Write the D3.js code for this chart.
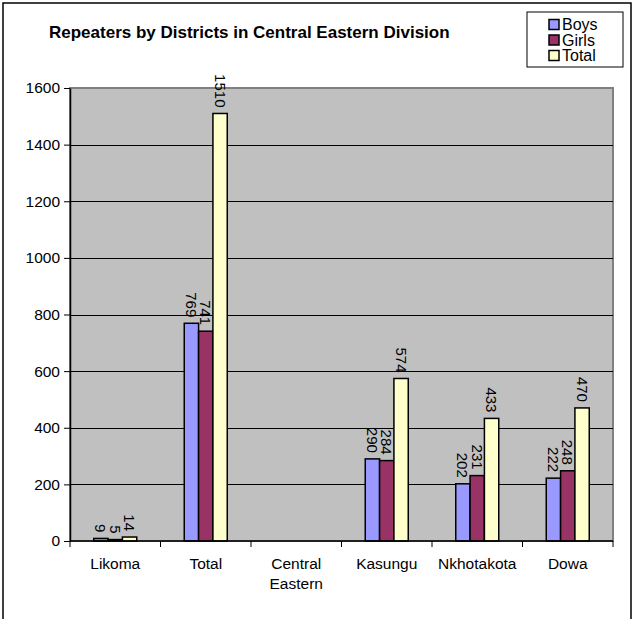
<!DOCTYPE html>
<html><head><meta charset="utf-8">
<script src="https://cdn.jsdelivr.net/npm/d3@7"></script>
<style>
html,body{margin:0;padding:0;background:#fff;}
text{font-family:"Liberation Sans",Arial,sans-serif;fill:#000;}
</style></head>
<body>
<svg id="chart" width="634" height="619"></svg>
<script>
const categories = ["Likoma", "Total", "Central Eastern", "Kasungu", "Nkhotakota", "Dowa"];
const series = ["Boys", "Girls", "Total"];
const boys  = [9, 769, null, 290, 202, 222];
const girls = [5, 741, null, 284, 231, 248];
const total = [14, 1510, null, 574, 433, 470];
const colors = ["#9999FF", "#993366", "#FFFFCC"];
const yTicks = [0, 200, 400, 600, 800, 1000, 1200, 1400, 1600];
const title = "Repeaters by Districts in Central Eastern Division";

const values = [boys, girls, total];
const svg = d3.select("#chart");
const plot = {left: 70, right: 613, top: 88, bottom: 541};

// outer border
svg.append("rect").attr("x", 3).attr("y", 3).attr("width", 628).attr("height", 640)
  .attr("fill", "#fff").attr("stroke", "#000").attr("stroke-width", 1.5);

const x = d3.scaleBand().domain(categories).range([plot.left, plot.right]).padding(0);
const groupW = 43;
const xs = d3.scaleBand().domain(series).range([0, groupW]).padding(0);
const y = d3.scaleLinear().domain([0, 1600]).range([plot.bottom, plot.top]);

// plot background
svg.append("rect").attr("x", plot.left).attr("y", plot.top)
  .attr("width", plot.right - plot.left).attr("height", plot.bottom - plot.top)
  .attr("fill", "#C0C0C0").attr("stroke", "#808080").attr("stroke-width", 2);

// gridlines
svg.append("g").selectAll("line").data(yTicks.filter(t => t > 0 && t < 1600)).join("line")
  .attr("x1", plot.left).attr("x2", plot.right)
  .attr("y1", d => Math.round(y(d)) + 0.5).attr("y2", d => Math.round(y(d)) + 0.5)
  .attr("stroke", "#000").attr("stroke-width", 1);

// bars
const groups = svg.append("g").selectAll("g").data(categories).join("g")
  .attr("transform", c => `translate(${x(c) + x.bandwidth() / 2 - groupW / 2},0)`);
series.forEach((s, si) => {
  groups.filter((c, i) => values[si][i] != null)
    .append("rect")
    .attr("x", xs(s)).attr("width", xs.bandwidth())
    .attr("y", c => y(values[si][categories.indexOf(c)]))
    .attr("height", c => plot.bottom - y(values[si][categories.indexOf(c)]))
    .attr("fill", colors[si]).attr("stroke", "#000").attr("stroke-width", 1.5);
});
series.forEach((s, si) => {
  groups.filter((c, i) => values[si][i] != null)
    .append("text")
    .attr("transform", c => `translate(${xs(s) + xs.bandwidth() / 2},${y(values[si][categories.indexOf(c)]) - 6}) rotate(90)`)
    .attr("text-anchor", "end").attr("dominant-baseline", "central")
    .style("font-size", "15px")
    .text(c => values[si][categories.indexOf(c)]);
});

// y axis
const yAxis = svg.append("g").attr("transform", `translate(${plot.left},0)`)
  .call(d3.axisLeft(y).tickValues(yTicks).tickFormat(d3.format("d")).tickSize(6).tickSizeOuter(0).tickPadding(4));
yAxis.select(".domain").attr("stroke", "#000").attr("stroke-width", 1.5);
yAxis.selectAll(".tick line").attr("stroke", "#000");
yAxis.selectAll("text").style("font-size", "15.5px").style("font-family", "Liberation Sans, Arial, sans-serif");

// x axis line and ticks at category boundaries
svg.append("line").attr("x1", plot.left).attr("x2", plot.right)
  .attr("y1", plot.bottom).attr("y2", plot.bottom).attr("stroke", "#000").attr("stroke-width", 1.5);
const bounds = categories.map(c => x(c)).concat([x.range()[1]]);
svg.append("g").selectAll("line").data(bounds).join("line")
  .attr("x1", d => d).attr("x2", d => d)
  .attr("y1", plot.bottom).attr("y2", plot.bottom + 6)
  .attr("stroke", "#000").attr("stroke-width", 1);
svg.append("g").selectAll("text").data(categories).join("text")
  .attr("x", c => x(c) + x.bandwidth() / 2).attr("y", plot.bottom + 28)
  .attr("text-anchor", "middle").style("font-size", "15.5px")
  .each(function(c) {
    const words = c.split(" ");
    d3.select(this).selectAll("tspan").data(words).join("tspan")
      .attr("x", x(c) + x.bandwidth() / 2).attr("dy", (w, i) => i === 0 ? 0 : "1.3em").text(w => w);
  });

// title
svg.append("text").attr("x", 49).attr("y", 38).style("font-size", "17px").style("font-weight", "bold").text(title);

// legend
const lg = svg.append("g").attr("transform", "translate(527,12)");
lg.append("rect").attr("width", 96).attr("height", 55).attr("fill", "#fff").attr("stroke", "#000").attr("stroke-width", 1);
series.forEach((s, i) => {
  lg.append("rect").attr("x", 22).attr("y", 7.5 + i * 15.5).attr("width", 10).attr("height", 10)
    .attr("fill", colors[i]).attr("stroke", "#000").attr("stroke-width", 1.5);
  lg.append("text").attr("x", 35).attr("y", 18 + i * 15.5).style("font-size", "16px").text(s);
});
</script>
</body></html>
